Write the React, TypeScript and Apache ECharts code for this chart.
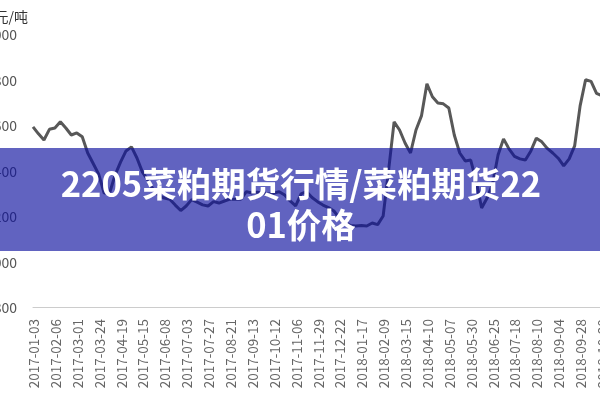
import React, { useEffect, useRef } from "react";
import * as echarts from "echarts";

const dates = [
  "2017-01-03", "2017-01-09", "2017-01-13", "2017-01-19",
  "2017-02-06", "2017-02-10", "2017-02-16", "2017-02-22",
  "2017-03-01", "2017-03-07", "2017-03-13", "2017-03-17",
  "2017-03-24", "2017-03-30", "2017-04-07", "2017-04-13",
  "2017-04-19", "2017-04-25", "2017-05-02", "2017-05-08",
  "2017-05-15", "2017-05-19", "2017-05-25", "2017-06-02",
  "2017-06-08", "2017-06-14", "2017-06-20", "2017-06-26",
  "2017-07-03", "2017-07-07", "2017-07-13", "2017-07-19",
  "2017-07-27", "2017-08-02", "2017-08-08", "2017-08-14",
  "2017-08-21", "2017-08-25", "2017-08-31", "2017-09-06",
  "2017-09-13", "2017-09-19", "2017-09-25", "2017-09-29",
  "2017-10-12", "2017-10-18", "2017-10-24", "2017-10-30",
  "2017-11-06", "2017-11-10", "2017-11-16", "2017-11-22",
  "2017-11-29", "2017-12-05", "2017-12-11", "2017-12-15",
  "2017-12-22", "2017-12-28", "2018-01-05", "2018-01-11",
  "2018-01-17", "2018-01-23", "2018-01-29", "2018-02-02",
  "2018-02-09", "2018-02-14", "2018-02-26", "2018-03-05",
  "2018-03-15", "2018-03-21", "2018-03-27", "2018-04-02",
  "2018-04-10", "2018-04-16", "2018-04-20", "2018-04-26",
  "2018-05-07", "2018-05-11", "2018-05-17", "2018-05-23",
  "2018-05-30", "2018-06-05", "2018-06-11", "2018-06-15",
  "2018-06-25", "2018-06-29", "2018-07-05", "2018-07-11",
  "2018-07-18", "2018-07-24", "2018-07-30", "2018-08-03",
  "2018-08-10", "2018-08-16", "2018-08-22", "2018-08-28",
  "2018-09-04", "2018-09-10", "2018-09-14", "2018-09-20",
  "2018-09-28", "2018-10-12", "2018-10-18", "2018-10-24",
  "2018-10-29",
];

const prices = [
  2592, 2561, 2534, 2581,
  2587, 2614, 2587, 2556,
  2565, 2548, 2477, 2431,
  2384, 2301, 2301, 2380,
  2437, 2486, 2504, 2455,
  2393, 2358, 2314, 2290,
  2279, 2274, 2248, 2224,
  2244, 2272, 2261, 2249,
  2244, 2263, 2257, 2266,
  2274, 2274, 2274, 2307,
  2301, 2305, 2299, 2297,
  2300, 2307, 2292, 2266,
  2245, 2297, 2307, 2281,
  2263, 2248, 2237, 2222,
  2191, 2173, 2158, 2156,
  2158, 2156, 2169, 2162,
  2200, 2402, 2614, 2578,
  2521, 2477, 2578, 2640,
  2781, 2724, 2697, 2693,
  2675, 2556, 2477, 2442,
  2446, 2354, 2235, 2279,
  2341, 2468, 2539, 2495,
  2462, 2451, 2446, 2486,
  2542, 2526, 2497, 2477,
  2454, 2420, 2451, 2508,
  2684, 2799, 2792, 2739,
  2728,
];

const yMin = 1800;
const yMax = 3000;
const yStep = 200;
const unitLabel = "元/吨";
const bannerTitle = ["2205菜粕期货行情/菜粕期货22", "01价格"];

export default function App() {
  const ref = useRef<HTMLDivElement>(null);
  useEffect(() => {
    if (!ref.current) return;
    const chart = echarts.init(ref.current, undefined, { renderer: "svg" });
    chart.setOption({
      animation: false,
      grid: {
        left: 33,
        right: -2,
        top: 34,
        bottom: 93,
        containLabel: false,
        outerBoundsMode: "none",
      },
      xAxis: {
        type: "category",
        data: dates,
        boundaryGap: false,
        axisLine: { lineStyle: { color: "#cccccc", width: 1 } },
        axisTick: { show: false },
        axisLabel: {
          interval: 3,
          rotate: 90,
          margin: 12,
          fontSize: 13.5,
          color: "#666666",
          fontFamily: "Noto Sans CJK SC",
        },
      },
      yAxis: {
        type: "value",
        min: yMin,
        max: yMax,
        interval: yStep,
        splitLine: { show: false },
        axisLine: { show: false },
        axisTick: { show: false },
        axisLabel: {
          margin: 16,
          fontSize: 14,
          color: "#555555",
          fontFamily: "Noto Sans CJK SC",
          formatter: (v: number) => String(v),
        },
      },
      series: [
        {
          type: "line",
          data: prices,
          showSymbol: false,
          symbol: "none",
          lineStyle: { color: "#585858", width: 3 },
          z: 2,
        },
      ],
      graphic: [
        {
          type: "text",
          z: 10,
          style: {
            text: unitLabel,
            x: 28,
            y: 16,
            align: "right",
            verticalAlign: "middle",
            fontSize: 14,
            fontFamily: "Noto Sans CJK SC",
            fill: "#333333",
          },
        },
        {
          type: "rect",
          z: 100,
          shape: { x: 0, y: 148, width: 600, height: 103 },
          style: { fill: "rgba(12,16,158,0.65)" },
        },
        {
          type: "text",
          z: 101,
          style: {
            text: bannerTitle.join("\n"),
            x: 301,
            y: 202,
            align: "center",
            verticalAlign: "middle",
            fontSize: 34.5,
            lineHeight: 41,
            fontWeight: "bold",
            fontFamily: "Noto Sans CJK SC",
            fill: "#ffffff",
          },
        },
      ],
    });
    return () => chart.dispose();
  }, []);
  return (
    <div
      ref={ref}
      style={{ position: "fixed", left: 0, top: 0, width: 600, height: 400 }}
    />
  );
}
